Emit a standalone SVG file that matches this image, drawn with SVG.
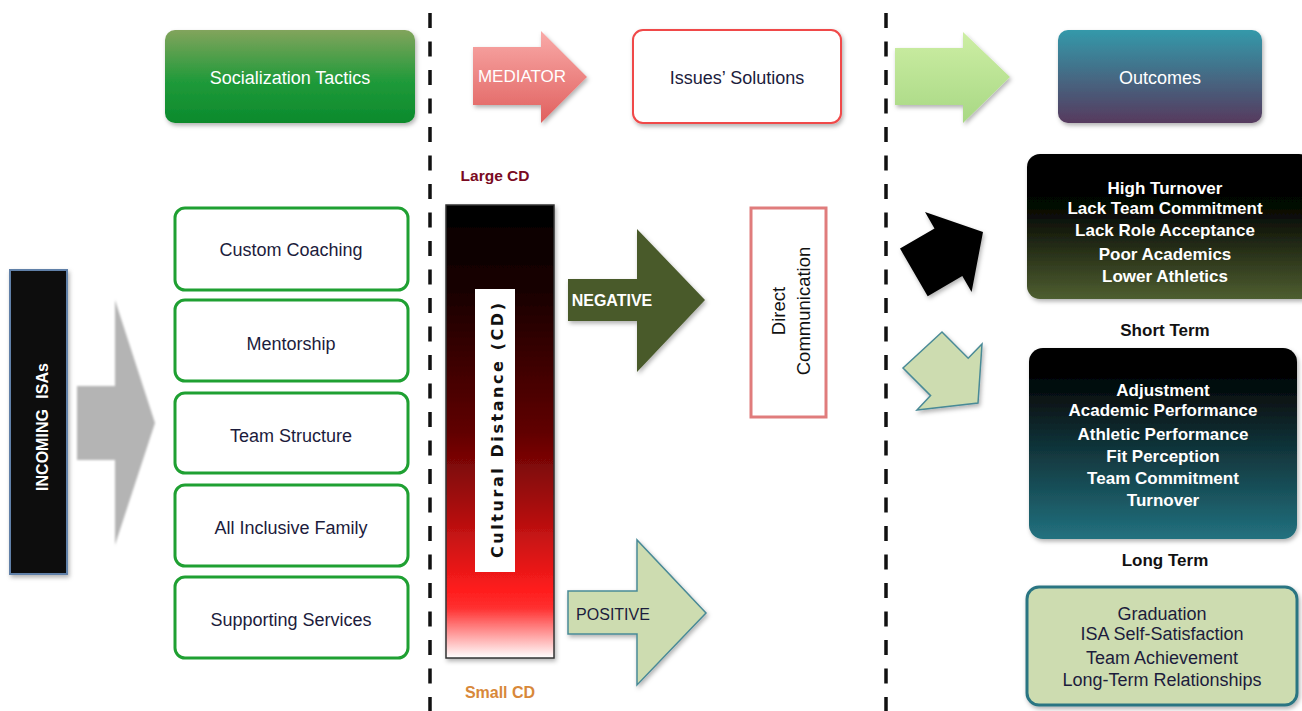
<svg xmlns="http://www.w3.org/2000/svg" width="1302" height="711" viewBox="0 0 1302 711">
<defs>
<style>
.t{font-family:"Liberation Sans",Arial,sans-serif;text-anchor:middle}
.w{fill:#ffffff}
.d{fill:#1c1c3c}
.b{font-weight:bold}
.lb{fill:#ffffff;stroke:#1fa032;stroke-width:3}
.dash{stroke:#111;stroke-width:3.5;stroke-dasharray:15 13.5;fill:none}
</style>
<filter id="sh" x="-10%" y="-10%" width="130%" height="130%">
<feDropShadow dx="1.5" dy="2.5" stdDeviation="2" flood-color="#000" flood-opacity="0.3"/>
</filter>
<filter id="blur" x="-20%" y="-20%" width="140%" height="140%">
<feGaussianBlur stdDeviation="1.2"/>
</filter>
<linearGradient id="gSoc" x1="0" y1="0" x2="0" y2="1">
<stop offset="0" stop-color="#82a45c"/><stop offset="0.55" stop-color="#209a3a"/><stop offset="1" stop-color="#0b8a2c"/>
</linearGradient>
<linearGradient id="gMed" x1="0" y1="0" x2="0" y2="1">
<stop offset="0" stop-color="#f9aaa8"/><stop offset="1" stop-color="#e0605e"/>
</linearGradient>
<linearGradient id="gGr" x1="0" y1="0" x2="0" y2="1">
<stop offset="0" stop-color="#cdeea4"/><stop offset="1" stop-color="#a8d884"/>
</linearGradient>
<linearGradient id="gOut" x1="0" y1="0" x2="0" y2="1">
<stop offset="0" stop-color="#3499aa"/><stop offset="1" stop-color="#563a5e"/>
</linearGradient>
<linearGradient id="gCD" x1="0" y1="0" x2="0" y2="1">
<stop offset="0" stop-color="#000000"/><stop offset="0.2" stop-color="#1a0000"/><stop offset="0.5" stop-color="#600202"/><stop offset="0.65" stop-color="#a00c0c"/><stop offset="0.85" stop-color="#ff1c1c"/><stop offset="0.89" stop-color="#ff3030"/><stop offset="1" stop-color="#ffffff"/>
</linearGradient>
<linearGradient id="gNeg" x1="0" y1="0" x2="0" y2="1">
<stop offset="0" stop-color="#000000"/><stop offset="0.38" stop-color="#060804"/><stop offset="1" stop-color="#4e5e30"/>
</linearGradient>
<linearGradient id="gAdj" x1="0" y1="0" x2="0" y2="1">
<stop offset="0" stop-color="#000000"/><stop offset="0.15" stop-color="#030505"/><stop offset="1" stop-color="#22717f"/>
</linearGradient>
</defs>
<rect width="1302" height="711" fill="#ffffff"/>

<g id="dividers">
<line class="dash" x1="430" y1="13" x2="430" y2="711"/>
<line class="dash" x1="886" y1="13" x2="886" y2="711"/>
</g>

<g id="connectors">
<polygon points="77,386 115,386 115,300 155,423 115,545 115,460 77,460" fill="#b4b4b4" filter="url(#blur)"/>
<polygon points="473,47 541,47 541,31 587,77 541,123 541,105 473,105" fill="url(#gMed)" filter="url(#sh)"/>
<polygon points="895,48 963,48 963,32 1010,77 963,123 963,105 895,105" fill="url(#gGr)" filter="url(#sh)"/>
<polygon points="568,279 637,279 637,229 705,300 637,372 637,321 568,321" fill="#4a5a2c" filter="url(#sh)"/>
<polygon points="568,591 637,591 637,540 706,613 637,685 637,634 568,634" fill="#cddcb0" stroke="#4a8a96" stroke-width="1.5" filter="url(#sh)"/>
<polygon points="983,232 925,212 934.5,228.4 900,248.6 927.7,296.2 962.3,276 971.6,292" fill="#000000" filter="url(#sh)"/>
<polygon points="942,332 903,368 930.6,395.6 917,410 978,403 982,344 968.2,358.2" fill="#cddcb0" stroke="#4a8a96" stroke-width="1.5" filter="url(#sh)"/>
<text class="t w" x="522" y="82" font-size="17">MEDIATOR</text>
<text class="t w b" x="612" y="306" font-size="16">NEGATIVE</text>
<text class="t d" x="613" y="620" font-size="16">POSITIVE</text>
</g>

<g id="incoming">
<rect x="10" y="270" width="57" height="304" fill="#111111" stroke="#6080a8" stroke-width="2" filter="url(#sh)"/>
<text class="t w b" transform="translate(42,427) rotate(-90)" y="6" font-size="16" word-spacing="6">INCOMING ISAs</text>
</g>

<g id="socialization">
<rect x="165" y="30" width="250" height="93" rx="10" fill="url(#gSoc)" filter="url(#sh)"/>
<text class="t w" x="290" y="84" font-size="18">Socialization Tactics</text>
</g>

<g id="issues">
<rect x="633" y="30" width="208" height="93" rx="10" fill="#ffffff" stroke="#f04848" stroke-width="2" filter="url(#sh)"/>
<text class="t d" x="737" y="84" font-size="18">Issues’ Solutions</text>
</g>

<g id="outcomes">
<rect x="1058" y="30" width="204" height="93" rx="10" fill="url(#gOut)" filter="url(#sh)"/>
<text class="t w" x="1160" y="84" font-size="18">Outcomes</text>
</g>

<g id="tactic-1">
<rect class="lb" x="175" y="208" width="233" height="82" rx="10"/>
<text class="t d" x="291" y="256" font-size="18">Custom Coaching</text>
</g>
<g id="tactic-2">
<rect class="lb" x="175" y="300" width="233" height="81" rx="10"/>
<text class="t d" x="291" y="350" font-size="18">Mentorship</text>
</g>
<g id="tactic-3">
<rect class="lb" x="175" y="393" width="233" height="80" rx="10"/>
<text class="t d" x="291" y="442" font-size="18">Team Structure</text>
</g>
<g id="tactic-4">
<rect class="lb" x="175" y="485" width="233" height="81" rx="10"/>
<text class="t d" x="291" y="534" font-size="18">All Inclusive Family</text>
</g>
<g id="tactic-5">
<rect class="lb" x="175" y="577" width="233" height="81" rx="10"/>
<text class="t d" x="291" y="626" font-size="18">Supporting Services</text>
</g>

<g id="cultural-distance">
<text class="t b" x="495" y="181" font-size="15.5" fill="#7a0a22">Large CD</text>
<rect x="446" y="205" width="108" height="453" fill="url(#gCD)" stroke="#333333" stroke-width="1.5" filter="url(#sh)"/>
<rect x="475" y="289" width="40" height="283" fill="#ffffff"/>
<text transform="translate(497,430.5) rotate(-90)" y="6" font-family="DejaVu Sans,Verdana,sans-serif" font-size="16" font-weight="bold" text-anchor="middle" fill="#111111" textLength="255" lengthAdjust="spacing">Cultural  Distance  (CD)</text>
<text class="t b" x="500" y="698" font-size="16" fill="#d8883a">Small CD</text>
</g>

<g id="direct-communication">
<rect x="751" y="208" width="75" height="209" fill="#ffffff" stroke="#e07c7c" stroke-width="3"/>
<text class="t" transform="translate(785,311) rotate(-90)" font-size="18.5" fill="#111111"><tspan x="0" y="0">Direct</tspan><tspan x="0" y="25">Communication</tspan></text>
</g>

<g id="short-term">
<rect x="1027" y="154" width="285" height="145" rx="13" fill="url(#gNeg)" filter="url(#sh)"/>
<text class="t w b" font-size="17"><tspan x="1165" y="194">High Turnover</tspan><tspan x="1165" y="214">Lack Team Commitment</tspan><tspan x="1165" y="236">Lack Role Acceptance</tspan><tspan x="1165" y="260">Poor Academics</tspan><tspan x="1165" y="282">Lower Athletics</tspan></text>
<text class="t b" x="1165" y="336" font-size="17" fill="#111111">Short Term</text>
</g>

<g id="long-term">
<rect x="1029" y="348" width="268" height="191" rx="14" fill="url(#gAdj)" filter="url(#sh)"/>
<text class="t w b" font-size="17"><tspan x="1163" y="396">Adjustment</tspan><tspan x="1163" y="416">Academic Performance</tspan><tspan x="1163" y="440">Athletic Performance</tspan><tspan x="1163" y="462">Fit Perception</tspan><tspan x="1163" y="484">Team Commitment</tspan><tspan x="1163" y="506">Turnover</tspan></text>
<text class="t b" x="1165" y="566" font-size="17" fill="#111111">Long Term</text>
</g>

<g id="lasting">
<rect x="1027" y="587" width="270" height="118" rx="12" fill="#cddcb0" stroke="#2a7482" stroke-width="3" filter="url(#sh)"/>
<text class="t d" font-size="18"><tspan x="1162" y="620">Graduation</tspan><tspan x="1162" y="640">ISA Self-Satisfaction</tspan><tspan x="1162" y="664">Team Achievement</tspan><tspan x="1162" y="686">Long-Term Relationships</tspan></text>
</g>
</svg>
